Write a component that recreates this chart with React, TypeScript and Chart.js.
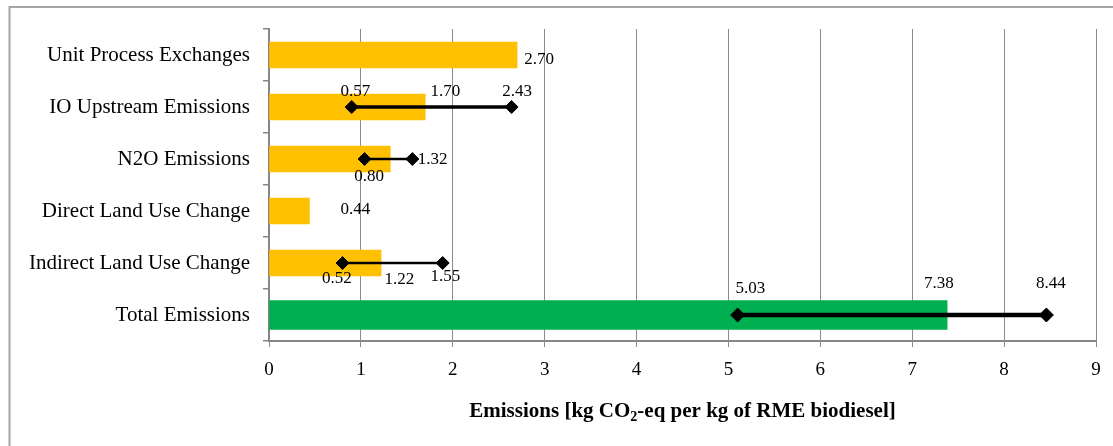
import React, { useEffect, useRef } from 'react';
import { Chart, registerables } from 'chart.js';

Chart.register(...registerables);

// ---- data ----
const categories = [
  'Unit Process Exchanges',
  'IO Upstream Emissions',
  'N2O Emissions',
  'Direct Land Use Change',
  'Indirect Land Use Change',
  'Total Emissions',
];
const componentValues = [2.7, 1.7, 1.32, 0.44, 1.22, null];
const totalValues = [null, null, null, null, null, 7.38];

const rangeCategories = ['IO Upstream Emissions', 'N2O Emissions', 'Indirect Land Use Change', 'Total Emissions'];
const rangeLow = [0.9, 1.04, 0.8, 5.1];
const rangeHigh = [2.64, 1.56, 1.89, 8.46];

const xTickValues = [0, 1, 2, 3, 4, 5, 6, 7, 8, 9];

const labelTexts = ['2.70', '0.57', '1.70', '2.43', '1.32', '0.80', '0.44', '0.52', '1.22', '1.55', '5.03', '7.38', '8.44'];
const labelCategories = [
  'Unit Process Exchanges',
  'IO Upstream Emissions',
  'IO Upstream Emissions',
  'IO Upstream Emissions',
  'N2O Emissions',
  'N2O Emissions',
  'Direct Land Use Change',
  'Indirect Land Use Change',
  'Indirect Land Use Change',
  'Indirect Land Use Change',
  'Total Emissions',
  'Total Emissions',
  'Total Emissions',
];
// label anchor along the value axis
const labelAnchors = [2.94, 0.94, 1.92, 2.7, 1.78, 1.09, 0.94, 0.74, 1.42, 1.92, 5.24, 7.29, 8.51];

const axisTitleParts = ['Emissions [kg CO', '2', '-eq per kg of RME biodiesel]'];

// ---- layout (pixel offsets, not data) ----
const labelDy = [5, -15, -15, -15, 1, 18, -1, 16, 17, 14, -26, -31, -31];
const rangeLineWidths = [3.5, 2.5, 2.5, 4.5];
const rangeRadius = [6.5, 6.5, 6.5, 7];

const SERIF = '"Liberation Serif", "Times New Roman", serif';

const framePlugin = {
  id: 'frame',
  beforeDraw(chart: any) {
    const { ctx, width, height } = chart;
    ctx.save();
    ctx.fillStyle = '#ffffff';
    ctx.fillRect(0, 0, width, height);
    ctx.strokeStyle = '#a6a6a6';
    ctx.lineWidth = 2;
    ctx.beginPath();
    ctx.moveTo(9.5, height + 5);
    ctx.lineTo(9.5, 7);
    ctx.lineTo(width + 5, 7);
    ctx.stroke();
    ctx.restore();
  },
};

const labelPlugin = {
  id: 'valueLabels',
  afterDatasetsDraw(chart: any) {
    const { ctx } = chart;
    const x = chart.scales.x;
    const y = chart.scales.y;
    ctx.save();
    ctx.font = '17px ' + SERIF;
    ctx.fillStyle = '#000000';
    ctx.textAlign = 'center';
    ctx.textBaseline = 'middle';
    labelTexts.forEach((t, i) => {
      const px = x.getPixelForValue(labelAnchors[i]);
      const py = y.getPixelForValue(categories.indexOf(labelCategories[i])) + labelDy[i];
      ctx.fillText(t, px, py);
    });
    ctx.restore();
  },
};

const axisTitlePlugin = {
  id: 'axisTitle',
  afterDraw(chart: any) {
    const { ctx, chartArea } = chart;
    ctx.save();
    const big = 'bold 21px ' + SERIF;
    const small = 'bold 14px ' + SERIF;
    ctx.font = big;
    const w0 = ctx.measureText(axisTitleParts[0]).width;
    const w2 = ctx.measureText(axisTitleParts[2]).width;
    ctx.font = small;
    const w1 = ctx.measureText(axisTitleParts[1]).width;
    const total = w0 + w1 + w2;
    let sx = (chartArea.left + chartArea.right) / 2 - total / 2;
    const baseY = 417;
    ctx.fillStyle = '#000000';
    ctx.textAlign = 'left';
    ctx.textBaseline = 'alphabetic';
    ctx.font = big;
    ctx.fillText(axisTitleParts[0], sx, baseY);
    sx += w0;
    ctx.font = small;
    ctx.fillText(axisTitleParts[1], sx, baseY + 4);
    sx += w1;
    ctx.font = big;
    ctx.fillText(axisTitleParts[2], sx, baseY);
    ctx.restore();
  },
};

export default function App() {
  const canvasRef = useRef<HTMLCanvasElement | null>(null);

  useEffect(() => {
    document.body.style.margin = '0';
    const canvas = canvasRef.current;
    if (!canvas) return;

    const rangeDatasets = rangeCategories.map((cat, i) => ({
      type: 'line' as const,
      data: [
        { x: rangeLow[i], y: cat },
        { x: rangeHigh[i], y: cat },
      ],
      borderColor: '#000000',
      borderWidth: rangeLineWidths[i],
      pointStyle: 'rectRot' as const,
      pointRadius: rangeRadius[i],
      pointBackgroundColor: '#000000',
      pointBorderColor: '#000000',
      pointBorderWidth: 1,
      fill: false,
      order: 0,
      xAxisID: 'x',
      yAxisID: 'y',
    }));

    const chart = new Chart(canvas, {
      type: 'bar',
      data: {
        labels: categories,
        datasets: [
          {
            type: 'bar',
            data: componentValues as any,
            backgroundColor: '#FFC000',
            barThickness: 26,
            grouped: false,
            order: 1,
          } as any,
          {
            type: 'bar',
            data: totalValues as any,
            backgroundColor: '#00B050',
            barThickness: 29,
            grouped: false,
            order: 1,
          } as any,
          ...(rangeDatasets as any),
        ],
      },
      options: {
        indexAxis: 'y',
        animation: false,
        responsive: false,
        maintainAspectRatio: false,
        devicePixelRatio: 1,
        layout: { padding: { left: 0, top: 29, right: 17, bottom: 45 } },
        plugins: {
          legend: { display: false },
          tooltip: { enabled: false },
        },
        scales: {
          x: {
            type: 'linear',
            min: 0,
            max: 9,
            afterBuildTicks: (scale: any) => {
              scale.ticks = xTickValues.map((v) => ({ value: v }));
            },
            afterFit: (scale: any) => {
              scale.height = 60;
            },
            ticks: {
              font: { family: SERIF, size: 19 },
              color: '#000000',
              padding: 12,
              maxRotation: 0,
            },
            grid: {
              color: '#8c8c8c',
              lineWidth: 1,
              tickLength: 6,
              drawOnChartArea: true,
            },
            border: { color: '#868686', width: 2 },
          },
          y: {
            type: 'category',
            offset: true,
            afterFit: (scale: any) => {
              scale.width = 269;
            },
            ticks: {
              font: { family: SERIF, size: 21 },
              color: '#000000',
              padding: 13,
            },
            grid: {
              offset: true,
              drawOnChartArea: false,
              tickLength: 6,
              color: '#868686',
              lineWidth: 1.5,
            },
            border: { color: '#868686', width: 2 },
          },
        },
      },
      plugins: [framePlugin, labelPlugin, axisTitlePlugin],
    });

    return () => chart.destroy();
  }, []);

  return (
    <div style={{ position: 'fixed', left: 0, top: 0, width: 1113, height: 446 }}>
      <canvas ref={canvasRef} width={1113} height={446} style={{ width: 1113, height: 446, display: 'block' }} />
    </div>
  );
}
